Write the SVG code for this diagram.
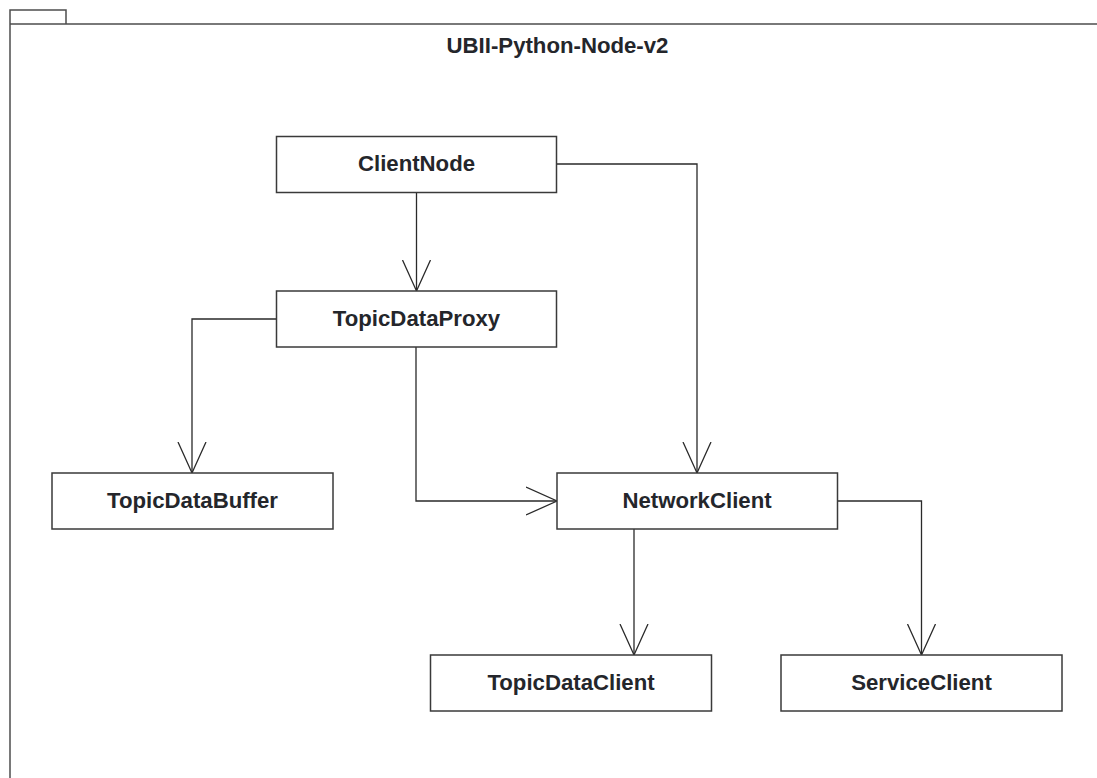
<svg xmlns="http://www.w3.org/2000/svg" width="1097" height="778" viewBox="0 0 1097 778">
<style>
.frame{fill:none;stroke:#4d4d4d;stroke-width:1.5}
.box{fill:#ffffff;stroke:#3a3a3a;stroke-width:1.5}
.lbl{font-family:"Liberation Sans",Arial,sans-serif;font-weight:bold;font-size:22.2px;fill:#24262b;text-anchor:middle}
.edge{fill:none;stroke:#2a2a2a;stroke-width:1.3}
</style>
<defs>
<marker id="open" markerWidth="34" markerHeight="32" refX="31" refY="15" orient="auto" markerUnits="userSpaceOnUse">
<path d="M0,1 L31,15 L0,29" fill="none" stroke="#2a2a2a" stroke-width="1.3"/>
</marker>
</defs>
<rect width="1097" height="778" fill="#ffffff"/>
<g id="package">
<path class="frame" d="M10,778 L10,24 L1097,24 M10,24 L10,10 L66,10 L66,24"/>
<text class="lbl" x="557.5" y="52.7">UBII-Python-Node-v2</text>
</g>
<g id="connectors">
<path class="edge" d="M416.5,192 L416.5,291" marker-end="url(#open)"/>
<path class="edge" d="M556.5,164 L697,164 L697,473" marker-end="url(#open)"/>
<path class="edge" d="M276.5,319 L192,319 L192,473" marker-end="url(#open)"/>
<path class="edge" d="M416,347 L416,501 L557,501" marker-end="url(#open)"/>
<path class="edge" d="M634,529 L634,655" marker-end="url(#open)"/>
<path class="edge" d="M837.5,501 L921.5,501 L921.5,655" marker-end="url(#open)"/>
</g>
<g id="ClientNode">
<rect class="box" x="276.5" y="136.5" width="280" height="56"/>
<text class="lbl" x="416.5" y="171">ClientNode</text>
</g>
<g id="TopicDataProxy">
<rect class="box" x="276.5" y="291" width="280" height="56"/>
<text class="lbl" x="416.5" y="325.5">TopicDataProxy</text>
</g>
<g id="TopicDataBuffer">
<rect class="box" x="52" y="473" width="281" height="56"/>
<text class="lbl" x="192.5" y="507.5">TopicDataBuffer</text>
</g>
<g id="NetworkClient">
<rect class="box" x="557" y="473" width="280.5" height="56"/>
<text class="lbl" x="697" y="507.5">NetworkClient</text>
</g>
<g id="TopicDataClient">
<rect class="box" x="430.5" y="655" width="281" height="56"/>
<text class="lbl" x="571" y="689.5">TopicDataClient</text>
</g>
<g id="ServiceClient">
<rect class="box" x="781" y="655" width="281" height="56"/>
<text class="lbl" x="921.5" y="689.5">ServiceClient</text>
</g>
</svg>
